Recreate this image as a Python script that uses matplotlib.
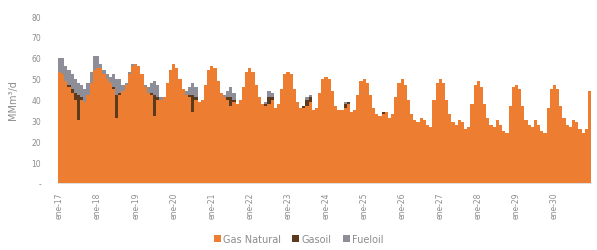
import numpy as np
import matplotlib
matplotlib.use("Agg")
import matplotlib.pyplot as plt

# monthly values (MMm3/d), one row per year, Jan..Dec
years = list(range(2017, 2031))

gas_natural = [
    [53, 52, 49, 46, 43, 40, 30, 40, 39, 42, 48, 54],  # 2017
    [55, 55, 52, 50, 48, 45, 31, 42, 44, 47, 52, 56],  # 2018
    [57, 56, 52, 46, 43, 42, 32, 40, 40, 41, 48, 54],  # 2019
    [57, 55, 50, 45, 42, 41, 34, 40, 39, 40, 47, 54],  # 2020
    [56, 55, 49, 43, 41, 40, 37, 39, 38, 40, 46, 53],  # 2021
    [55, 53, 47, 41, 38, 37, 38, 40, 36, 38, 45, 52],  # 2022
    [53, 52, 45, 39, 36, 36, 37, 39, 35, 36, 43, 50],  # 2023
    [51, 50, 44, 37, 35, 35, 36, 38, 34, 35, 42, 49],  # 2024
    [50, 48, 42, 36, 33, 32, 33, 34, 31, 33, 41, 48],  # 2025
    [50, 47, 40, 33, 30, 29, 31, 30, 28, 27, 40, 48],  # 2026
    [50, 48, 40, 33, 29, 28, 30, 29, 26, 27, 38, 47],  # 2027
    [49, 46, 38, 31, 28, 27, 30, 28, 25, 24, 37, 46],  # 2028
    [47, 45, 37, 30, 28, 27, 30, 28, 25, 24, 36, 45],  # 2029
    [47, 45, 37, 31, 28, 27, 30, 29, 26, 24, 26, 44],  # 2030
]

gasoil = [
    [0, 0, 0, 1, 2, 3, 12, 1, 0, 0, 0, 0],
    [0, 0, 0, 0, 0, 1, 11, 1, 0, 0, 0, 0],
    [0, 0, 0, 0, 0, 1, 10, 1, 0, 0, 0, 0],
    [0, 0, 0, 0, 0, 1, 8, 1, 0, 0, 0, 0],
    [0, 0, 0, 0, 0, 1, 4, 1, 0, 0, 0, 0],
    [0, 0, 0, 0, 0, 1, 3, 1, 0, 0, 0, 0],
    [0, 0, 0, 0, 0, 1, 3, 2, 0, 0, 0, 0],
    [0, 0, 0, 0, 0, 0, 2, 1, 0, 0, 0, 0],
    [0, 0, 0, 0, 0, 0, 1, 0, 0, 0, 0, 0],
    [0, 0, 0, 0, 0, 0, 0, 0, 0, 0, 0, 0],
    [0, 0, 0, 0, 0, 0, 0, 0, 0, 0, 0, 0],
    [0, 0, 0, 0, 0, 0, 0, 0, 0, 0, 0, 0],
    [0, 0, 0, 0, 0, 0, 0, 0, 0, 0, 0, 0],
    [0, 0, 0, 0, 0, 0, 0, 0, 0, 0, 0, 0],
]

fueloil = [
    [7, 8, 7, 7, 7, 7, 6, 6, 6, 6, 5, 7],
    [6, 2, 2, 2, 3, 6, 8, 7, 3, 1, 1, 1],
    [0, 0, 0, 1, 3, 5, 7, 6, 1, 0, 0, 0],
    [0, 0, 0, 0, 2, 4, 6, 5, 0, 0, 0, 0],
    [0, 0, 0, 0, 1, 3, 5, 3, 0, 0, 0, 0],
    [0, 0, 0, 0, 0, 1, 3, 2, 0, 0, 0, 0],
    [0, 0, 0, 0, 0, 0, 1, 1, 0, 0, 0, 0],
    [0, 0, 0, 0, 0, 0, 1, 0, 0, 0, 0, 0],
    [0, 0, 0, 0, 0, 0, 0, 0, 0, 0, 0, 0],
    [0, 0, 0, 0, 0, 0, 0, 0, 0, 0, 0, 0],
    [0, 0, 0, 0, 0, 0, 0, 0, 0, 0, 0, 0],
    [0, 0, 0, 0, 0, 0, 0, 0, 0, 0, 0, 0],
    [0, 0, 0, 0, 0, 0, 0, 0, 0, 0, 0, 0],
    [0, 0, 0, 0, 0, 0, 0, 0, 0, 0, 0, 0],
]

tick_labels = ["ene-{}".format(str(y)[2:]) for y in years]

c_gas = "#ED7D31"
c_gasoil = "#5B3A1E"
c_fuel = "#8E8E98"
c_text = "#8C8C8C"

gas = np.array(gas_natural).ravel()
go = np.array(gasoil).ravel()
fo = np.array(fueloil).ravel()
x = np.arange(len(gas))

fig = plt.figure(figsize=(5.97, 2.51), dpi=100)
ax = plt.axes([0.097, 0.267, 0.893, 0.665])  # left, bottom, width, height

ax.bar(x, gas, width=1.0, color=c_gas, linewidth=0, label="Gas Natural")
ax.bar(x, go, width=1.0, bottom=gas, color=c_gasoil, linewidth=0, label="Gasoil")
ax.bar(x, fo, width=1.0, bottom=gas + go, color=c_fuel, linewidth=0, label="Fueloil")

ax.set_xlim(-0.5, len(gas) - 0.5)
ax.set_ylim(0, 80)
ax.set_yticks(np.arange(0, 81, 10))
ax.set_yticklabels(["-"] + [str(v) for v in range(10, 81, 10)])
ax.set_xticks(np.arange(0, len(gas), 12))
ax.set_xticklabels(tick_labels, rotation=90)

ax.tick_params(axis="both", length=0, labelsize=5.5, colors=c_text)
ax.tick_params(axis="y", pad=12)
ax.tick_params(axis="x", pad=6)
for s in ["top", "right", "left"]:
    ax.spines[s].set_visible(False)
ax.spines["bottom"].set_color("#D9D9D9")
ax.spines["bottom"].set_linewidth(0.6)

ax.set_ylabel("MMm³/d", fontsize=7, color=c_text, labelpad=10)

leg = fig.legend(
    loc="lower center",
    bbox_to_anchor=(0.5, -0.01),
    ncol=3,
    frameon=False,
    fontsize=7,
    handlelength=0.7,
    handleheight=0.7,
    handletextpad=0.2,
    columnspacing=1.2,
)
for t in leg.get_texts():
    t.set_color(c_text)

fig.savefig("out.png", dpi=100)
